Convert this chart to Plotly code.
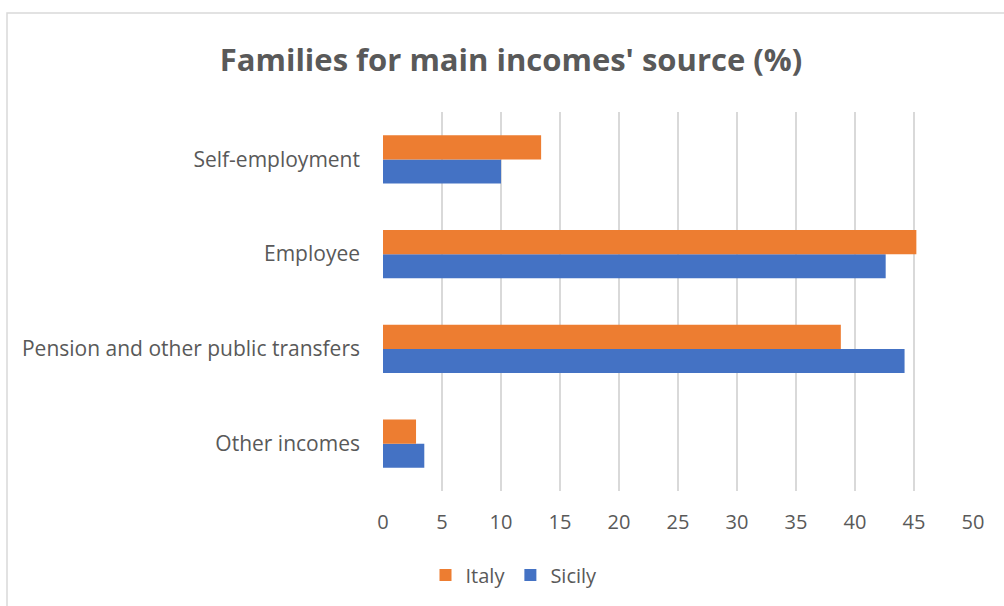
import plotly.graph_objects as go

# Share of families by main source of income (%)
categories = ["Self-employment", "Employee", "Pension and other public transfers", "Other incomes"]
italy = [13.4, 45.2, 38.8, 2.8]
sicily = [10.0, 42.6, 44.2, 3.5]
x_ticks = [0, 5, 10, 15, 20, 25, 30, 35, 40, 45, 50]

ORANGE = "#ED7D31"
BLUE = "#4472C4"
TEXT = "#595959"
GRID = "#D9D9D9"

W, H = 1004, 606
L, R, T, B = 383, 31, 112, 115

fig = go.Figure()
fig.add_trace(go.Bar(y=categories, x=sicily, name="Sicily", orientation="h",
                     marker=dict(color=BLUE, line=dict(width=0))))
fig.add_trace(go.Bar(y=categories, x=italy, name="Italy", orientation="h",
                     marker=dict(color=ORANGE, line=dict(width=0))))

pw, ph = W - L - R, H - T - B


def px_x(p):
    return (p - L) / pw


def px_y(p):
    return (H - B - p) / ph


fig.update_layout(
    width=W, height=H,
    margin=dict(l=L, r=R, t=T, b=B, autoexpand=False),
    paper_bgcolor="white", plot_bgcolor="white",
    barmode="group", bargap=0.49, bargroupgap=0,
    font=dict(family="Open Sans", color=TEXT, size=19),
    title=dict(text="<b>Families for main incomes' source (%)</b>",
               x=px_x(511), xref="paper", xanchor="center",
               y=1 - 60 / H, yanchor="middle",
               font=dict(size=31, color=TEXT, family="Open Sans")),
    xaxis=dict(range=[0, 50], tickvals=x_ticks, showgrid=True, gridcolor=GRID,
               gridwidth=1.5, zeroline=False, showline=False, ticks="",
               tickfont=dict(size=20, color=TEXT), ticklabelstandoff=17),
    yaxis=dict(categoryorder="array", categoryarray=categories[::-1],
               showgrid=False, zeroline=False, showline=False, ticks="",
               tickfont=dict(size=21, color=TEXT), ticklabelstandoff=22),
    legend=dict(orientation="h", traceorder="reversed",
                x=px_x(514), xanchor="center", y=px_y(575), yanchor="middle",
                font=dict(size=20, color=TEXT), itemwidth=30),
    showlegend=True,
    shapes=[dict(type="rect", xref="paper", yref="paper",
                 x0=px_x(7), x1=px_x(1010), y0=px_y(613), y1=px_y(13),
                 line=dict(color=GRID, width=1.5), fillcolor="rgba(0,0,0,0)",
                 layer="below")],
)

fig.write_html("out.html")
